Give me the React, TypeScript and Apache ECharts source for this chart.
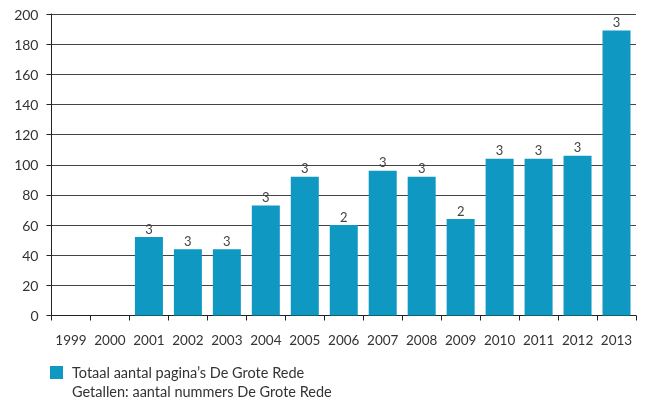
import React, { useEffect, useRef } from "react";
import * as echarts from "echarts";

const years = ["1999", "2000", "2001", "2002", "2003", "2004", "2005", "2006", "2007", "2008", "2009", "2010", "2011", "2012", "2013"];
const pages = [null, null, 52, 44, 44, 73, 92, 60, 96, 92, 64, 104, 104, 106, 189];
const issues = [null, null, 3, 3, 3, 3, 3, 2, 3, 3, 2, 3, 3, 3, 3];
const seriesName = "Totaal aantal pagina’s De Grote Rede";
const noteText = "Getallen: aantal nummers De Grote Rede";

const FONT = "Lato, 'Open Sans', sans-serif";
const TEXT = "#333";

export default function App() {
  const ref = useRef<HTMLDivElement>(null);
  useEffect(() => {
    if (!ref.current) return;
    const chart = echarts.init(ref.current, undefined, { renderer: "svg" });
    chart.setOption({
      animation: false,
      textStyle: { fontFamily: FONT },
      grid: { left: 51.5, right: 14, top: 14, bottom: 89.5, containLabel: false },
      legend: {
        left: 50,
        top: 365,
        padding: 0,
        itemWidth: 13,
        itemHeight: 13,
        icon: "rect",
        data: [seriesName],
        textStyle: { fontFamily: FONT, fontSize: 14.5, color: TEXT, padding: [0, 0, 0, 4] },
      },
      graphic: [
        {
          type: "text",
          left: 72,
          top: 384,
          style: { text: noteText, fontFamily: FONT, fontSize: 14.5, fill: TEXT },
        },
      ],
      xAxis: {
        type: "category",
        data: years,
        boundaryGap: true,
        axisLine: { show: true, lineStyle: { color: "#222", width: 1 } },
        axisTick: { show: true, length: 5, alignWithLabel: false, lineStyle: { color: "#222" } },
        axisLabel: { margin: 17, fontSize: 13.5, color: TEXT, fontFamily: FONT, interval: 0 },
        splitLine: { show: false },
      },
      yAxis: {
        type: "value",
        min: 0,
        max: 200,
        interval: 20,
        axisLine: { show: true, lineStyle: { color: "#222", width: 1 } },
        axisTick: { show: true, length: 5, lineStyle: { color: "#222" } },
        axisLabel: { margin: 13, fontSize: 14, color: TEXT, fontFamily: FONT },
        splitLine: { show: true, lineStyle: { color: "#444", width: 1 } },
      },
      series: [
        {
          name: seriesName,
          type: "bar",
          data: pages,
          barWidth: 28,
          itemStyle: { color: "#0e98c2" },
          label: {
            show: true,
            position: "top",
            distance: 2,
            fontSize: 13,
            color: "#444",
            fontFamily: FONT,
            formatter: (p: any) => (issues[p.dataIndex] == null ? "" : String(issues[p.dataIndex])),
          },
        },
      ],
    });
    return () => chart.dispose();
  }, []);
  return <div ref={ref} style={{ position: "fixed", left: 0, top: 0, width: 650, height: 405 }} />;
}
